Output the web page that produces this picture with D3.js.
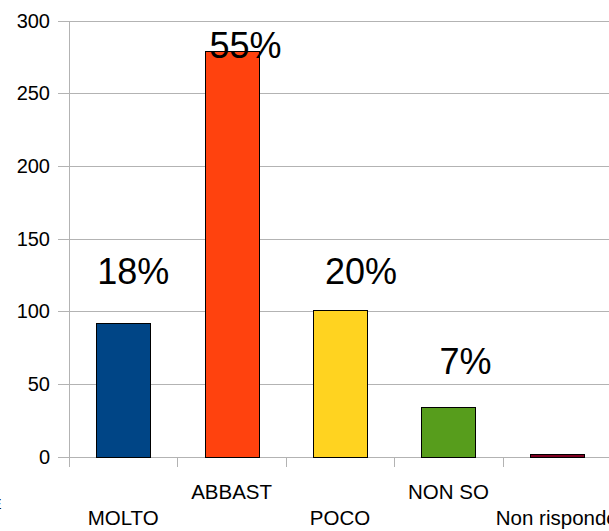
<!DOCTYPE html>
<html><head><meta charset="utf-8">
<script src="https://cdn.jsdelivr.net/npm/d3@7"></script>
<style>
html,body{margin:0;padding:0;background:#fff;overflow:hidden;}
svg{display:block;font-family:"Liberation Sans",Arial,sans-serif;}
</style></head>
<body>
<script>
const categories = ["MOLTO", "ABBAST", "POCO", "NON SO", "Non risponde"];
const values = [92, 279, 101, 34, 2];
const colors = ["#004586", "#ff420e", "#ffd320", "#579d1c", "#7e0021"];
const pctLabels = ["18%", "55%", "20%", "7%", ""];
// label anchor heights (in data units) and horizontal nudges of the hand-placed labels
const labelAt = [118.7, 274, 118.7, 56.6, 0];
const labelNudge = [10, 14, 21, 17, 0];
const yTicks = [0, 50, 100, 150, 200, 250, 300];

const W = 609, H = 531;
const svg = d3.select("body").append("svg").attr("width", W).attr("height", H);

const x = d3.scaleBand().domain(categories).range([69, 611]).paddingInner(0.5).paddingOuter(0.25);
const y = d3.scaleLinear().domain([0, 300]).range([456.5, 20.5]);

// gridlines + y ticks
svg.append("g").selectAll("line").data(yTicks).join("line")
  .attr("x1", 58).attr("x2", W)
  .attr("y1", d => Math.round(y(d)) + 0.5).attr("y2", d => Math.round(y(d)) + 0.5)
  .attr("stroke", "#b3b3b3").attr("stroke-width", 1);

svg.append("g").selectAll("text").data(yTicks).join("text")
  .attr("x", 50).attr("y", d => y(d) + 7)
  .attr("text-anchor", "end").attr("font-size", 20).attr("fill", "#000")
  .text(d => d);

// y axis line
svg.append("line").attr("x1", 69.5).attr("x2", 69.5)
  .attr("y1", Math.round(y(300))).attr("y2", 467)
  .attr("stroke", "#b3b3b3");

// x ticks at band boundaries
const step = x.step();
const x0 = x.range()[0];
svg.append("g").selectAll("line").data(d3.range(categories.length + 1)).join("line")
  .attr("x1", i => Math.round(x0 + i * step) + 0.5).attr("x2", i => Math.round(x0 + i * step) + 0.5)
  .attr("y1", Math.round(y(0))).attr("y2", 467)
  .attr("stroke", "#b3b3b3");

// bars
svg.append("g").selectAll("rect").data(values).join("rect")
  .attr("x", (d, i) => Math.round(x(categories[i])) + 0.5)
  .attr("y", d => Math.round(y(d)) + 0.5)
  .attr("width", Math.round(x.bandwidth()))
  .attr("height", d => Math.max(0, Math.round(y(0)) - Math.round(y(d))))
  .attr("fill", (d, i) => colors[i])
  .attr("stroke", "#000").attr("stroke-width", 1);

// percentage labels
svg.append("g").selectAll("text").data(pctLabels).join("text")
  .attr("x", (d, i) => x(categories[i]) + x.bandwidth() / 2 + labelNudge[i])
  .attr("y", (d, i) => y(labelAt[i]))
  .attr("text-anchor", "middle").attr("font-size", 36).attr("fill", "#000")
  .text(d => d);

// category labels (staggered)
svg.append("g").selectAll("text").data(categories).join("text")
  .attr("x", d => x(d) + x.bandwidth() / 2)
  .attr("y", (d, i) => i % 2 === 0 ? 525 : 499)
  .attr("text-anchor", "middle").attr("font-size", 20.5).attr("fill", "#000")
  .text(d => d);

// clipped fragment at the left edge
svg.append("text").attr("x", 1.5).attr("y", 509).attr("text-anchor", "end")
  .attr("font-size", 15).attr("fill", "#000").text("E");
</script>
</body></html>
